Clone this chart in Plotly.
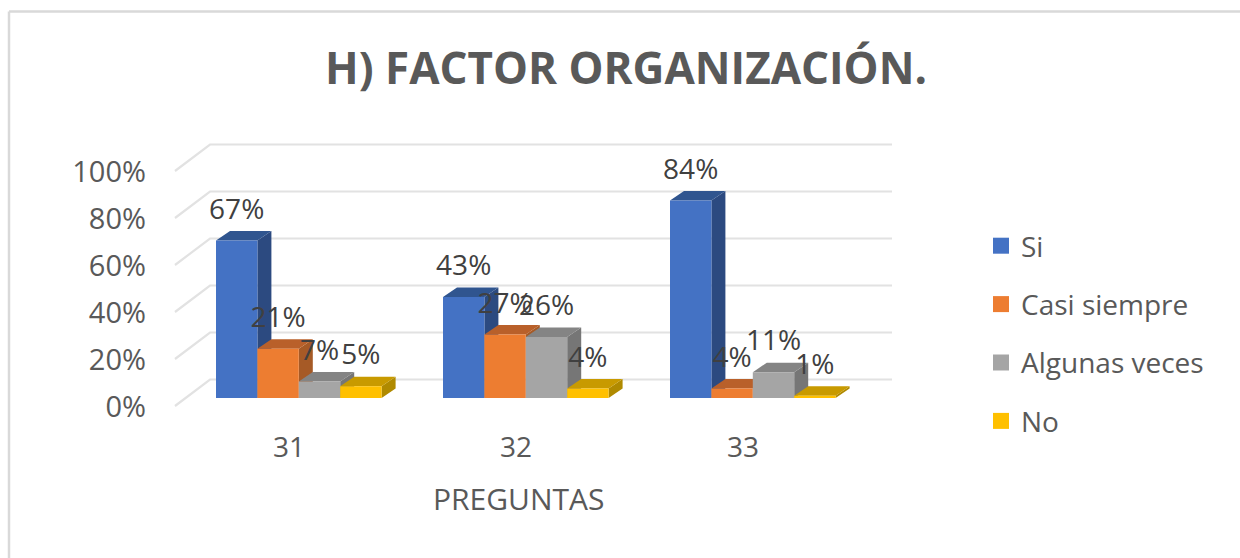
import plotly.graph_objects as go

title = "H) FACTOR ORGANIZACIÓN."
axis_title = "PREGUNTAS"
categories = [31, 32, 33]
series_names = ["Si", "Casi siempre", "Algunas veces", "No"]
si = [67, 43, 84]
casi_siempre = [21, 27, 4]
algunas_veces = [7, 26, 11]
no = [5, 4, 1]
y_ticks = [0, 20, 40, 60, 80, 100]
y_tick_labels = ["0%", "20%", "40%", "60%", "80%", "100%"]

series_values = [si, casi_siempre, algunas_veces, no]
front = ["#4472C4", "#ED7D31", "#A5A5A5", "#FFC000"]
side = ["#2C4A80", "#A65A26", "#767676", "#B08A00"]
top = ["#30558F", "#B9602A", "#848484", "#C89A00"]

W, H = 1240, 558
PX_X = 227.0      # pixels per category
PX_Y = 2.35       # pixels per percent
TICK_PX = 289.0   # pixel position of first category
BASE_PX = 398.0   # bars baseline
WALL_PX = 406.0   # tick-label plane baseline
bar_w = 41.4 / PX_X
group_left = -73.0 / PX_X
dx_bar, dy_bar = 14.0 / PX_X, 9.5 / PX_Y
wall_dx, wall_dy = 35.0 / PX_X, 26.5 / PX_Y
grid_left = 31 + (175.0 - TICK_PX) / PX_X
grid_right = 31 + (892.0 - TICK_PX) / PX_X

fig = go.Figure()

# back wall gridlines, on the tick-label axis
gx, gy = [], []
for t in y_ticks:
    gx += [grid_left, grid_left + wall_dx, grid_right, None]
    gy += [t, t + wall_dy, t + wall_dy, None]
fig.add_trace(go.Scatter(x=gx, y=gy, mode="lines", line=dict(color="#E2E2E2", width=2.2),
                         showlegend=False, hoverinfo="skip", yaxis="y"))

for i, (name, vals) in enumerate(zip(series_names, series_values)):
    lefts = [c + group_left + bar_w * i for c in categories]
    sx, sy, tx, ty = [], [], [], []
    for l, v in zip(lefts, vals):
        r = l + bar_w
        sx += [r, r + dx_bar, r + dx_bar, r, r, None]
        sy += [0, dy_bar, v + dy_bar, v, 0, None]
        tx += [l, l + dx_bar, r + dx_bar, r, l, None]
        ty += [v, v + dy_bar, v + dy_bar, v, v, None]
    z = 3 * i + 1
    fig.add_trace(go.Scatter(x=sx, y=sy, mode="lines", fill="toself", fillcolor=side[i],
                             line=dict(width=0, color=side[i]), yaxis="y2", zorder=z,
                             showlegend=False, hoverinfo="skip"))
    fig.add_trace(go.Scatter(x=tx, y=ty, mode="lines", fill="toself", fillcolor=top[i],
                             line=dict(width=0, color=top[i]), yaxis="y2", zorder=z + 1,
                             showlegend=False, hoverinfo="skip"))
    fig.add_trace(go.Bar(x=[l + bar_w / 2 for l in lefts], y=vals, width=bar_w, name=name,
                         marker=dict(color=front[i], line=dict(width=0)), yaxis="y2",
                         zorder=z + 2, showlegend=False))
    # legend entry
    fig.add_trace(go.Scatter(x=[None], y=[None], mode="markers", name=name, legendgroup=name,
                             marker=dict(symbol="square", size=16, color=front[i]), yaxis="y"))

# data labels, above everything
lx, ly, lt = [], [], []
for i, vals in enumerate(series_values):
    for c, v in zip(categories, vals):
        lx.append(c + group_left + bar_w * (i + 0.5))
        ly.append(v + 29.0 / PX_Y)
        lt.append(f"{v}%")
fig.add_trace(go.Scatter(x=lx, y=ly, text=lt, mode="text", textposition="middle center",
                         textfont=dict(family="Open Sans", size=28, color="#404040"),
                         yaxis="y2", zorder=50, showlegend=False, hoverinfo="skip"))

x_range = [31 - TICK_PX / PX_X, 31 + (W - TICK_PX) / PX_X]
fig.update_layout(
    width=W, height=H, margin=dict(l=0, r=0, t=0, b=0),
    paper_bgcolor="white", plot_bgcolor="white",
    barmode="overlay",
    font=dict(family="Open Sans", color="#595959"),
    title=dict(text=f"<b>{title}</b>", x=626 / W, xanchor="center", y=1 - 69 / H, yanchor="middle",
               font=dict(family="Open Sans", size=44, color="#595959")),
    xaxis=dict(range=x_range, tickmode="array", tickvals=categories, ticktext=[str(c) for c in categories],
               showgrid=False, zeroline=False, showline=False,
               ticks="", tickfont=dict(size=28, color="#595959"),
               anchor="free", position=(H - 428) / H),
    yaxis=dict(domain=[0, 1], range=[(WALL_PX - H) / PX_Y, WALL_PX / PX_Y], tickmode="array",
               tickvals=y_ticks, ticktext=y_tick_labels,
               showgrid=False, zeroline=False, showline=False, ticks="",
               tickfont=dict(size=29, color="#595959"), anchor="free", position=146 / W,
               ticklabelshift=1),
    yaxis2=dict(domain=[0, 1], range=[(BASE_PX - H) / PX_Y, BASE_PX / PX_Y], overlaying="y",
                visible=False),
    legend=dict(x=981 / W, xanchor="left", y=1 - 221 / H, yanchor="top", tracegroupgap=19,
                font=dict(family="Open Sans", size=28, color="#595959"), bgcolor="rgba(0,0,0,0)",
                itemwidth=30),
    annotations=[dict(text=axis_title, xref="paper", yref="paper", x=518 / W, y=1 - 499 / H,
                      showarrow=False, xanchor="center", yanchor="middle",
                      font=dict(family="Open Sans", size=30, color="#595959"))],
    shapes=[dict(type="line", xref="paper", yref="paper", x0=9 / W, x1=1, y0=1 - 11.5 / H, y1=1 - 11.5 / H,
                 line=dict(color="#D9D9D9", width=2.5)),
            dict(type="line", xref="paper", yref="paper", x0=9 / W, x1=9 / W, y0=0, y1=1 - 11.5 / H,
                 line=dict(color="#D9D9D9", width=2.5))],
)
fig.write_html("out.html", post_script="document.body.style.margin='0';",
               config=dict(displayModeBar=False))
